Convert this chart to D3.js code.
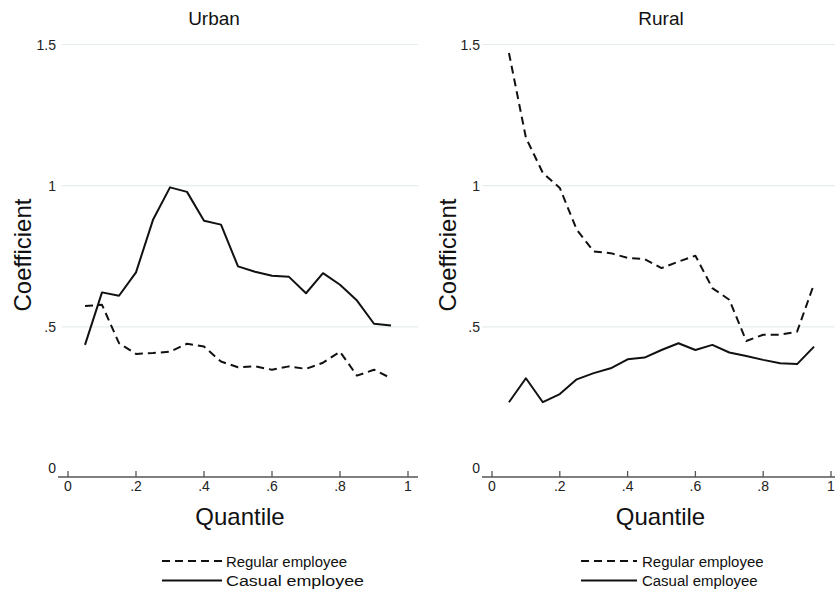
<!DOCTYPE html>
<html>
<head>
<meta charset="utf-8">
<script src="https://cdn.jsdelivr.net/npm/d3@7"></script>
<style>
  body { margin: 0; background: #fff; }
  svg { display: block; font-family: "Liberation Sans", Arial, sans-serif; }
</style>
</head>
<body>
<svg id="chart" width="835" height="591"></svg>
<script>
// quantiles shared by all series
const quantiles = [0.05, 0.10, 0.15, 0.20, 0.25, 0.30, 0.35, 0.40, 0.45, 0.50,
                   0.55, 0.60, 0.65, 0.70, 0.75, 0.80, 0.85, 0.90, 0.95];

const urbanRegular = [0.574, 0.578, 0.442, 0.404, 0.407, 0.412, 0.440, 0.430, 0.377, 0.357,
                      0.360, 0.348, 0.360, 0.351, 0.373, 0.412, 0.327, 0.348, 0.318];
const urbanCasual  = [0.436, 0.622, 0.610, 0.693, 0.879, 0.994, 0.978, 0.876, 0.862, 0.714,
                      0.695, 0.681, 0.677, 0.619, 0.690, 0.649, 0.593, 0.511, 0.505];
const ruralRegular = [1.470, 1.170, 1.045, 0.992, 0.844, 0.767, 0.761, 0.744, 0.740, 0.708,
                      0.731, 0.752, 0.637, 0.596, 0.450, 0.472, 0.472, 0.483, 0.652];
const ruralCasual  = [0.233, 0.318, 0.233, 0.262, 0.314, 0.336, 0.353, 0.385, 0.391, 0.418,
                      0.442, 0.418, 0.436, 0.409, 0.397, 0.383, 0.371, 0.368, 0.430];

const xTicks = [0, 0.2, 0.4, 0.6, 0.8, 1];
const yTicks = [0, 0.5, 1, 1.5];
const seriesNames = ["Regular employee", "Casual employee"];

// Stata style labels: ".5" rather than "0.5"
const fmt = d => String(d).replace(/^0\./, ".");

const svg = d3.select("#chart");

// panel layout
const panels = [
    { title: "Urban", titleX: 214, x0: 68, x1: 408, axisL: 58, axisR: 418, gridL: 62, labelX: 56, yTitleX: 31,
      data: [urbanRegular, urbanCasual],
      legend: { lineL: 162, lineR: 222, textX: 226, lens: [121, 138] } },
    { title: "Rural", titleX: 661, x0: 492, x1: 831, axisL: 482, axisR: 835, gridL: 482, labelX: 480, yTitleX: 456,
      data: [ruralRegular, ruralCasual],
      legend: { lineL: 581, lineR: 637, textX: 642, lens: [121.6, 115.6] } }
];

const y = d3.scaleLinear().domain([0, 1.5]).range([468, 44.5]);
const axisY = 477;
const dash = "8,5";

panels.forEach(p => {
    const x = d3.scaleLinear().domain([0, 1]).range([p.x0, p.x1]);
    const g = svg.append("g");

    // gridlines
    g.selectAll(".grid")
        .data(yTicks.filter(t => t > 0))
        .enter().append("line")
        .attr("x1", p.gridL).attr("x2", p.axisR)
        .attr("y1", d => y(d)).attr("y2", d => y(d))
        .attr("stroke", "#e6eded").attr("stroke-width", 1.2);

    // y labels
    g.selectAll(".ylab")
        .data(yTicks)
        .enter().append("text")
        .attr("x", p.labelX).attr("y", d => y(d))
        .attr("dy", "0.36em")
        .attr("text-anchor", "end")
        .style("font-size", "14px").attr("fill", "#222")
        .text(fmt);

    // x axis
    g.append("line")
        .attr("x1", p.axisL).attr("x2", p.axisR)
        .attr("y1", axisY).attr("y2", axisY)
        .attr("stroke", "#555").attr("stroke-width", 1.5);
    g.selectAll(".xtick")
        .data(xTicks)
        .enter().append("line")
        .attr("x1", d => x(d)).attr("x2", d => x(d))
        .attr("y1", axisY).attr("y2", axisY - 6)
        .attr("stroke", "#555").attr("stroke-width", 1.3);
    g.selectAll(".xlab")
        .data(xTicks)
        .enter().append("text")
        .attr("x", d => x(d)).attr("y", 491)
        .attr("text-anchor", "middle")
        .style("font-size", "14px").attr("fill", "#222")
        .text(fmt);

    // titles
    g.append("text")
        .attr("x", p.titleX).attr("y", 25)
        .attr("text-anchor", "middle")
        .style("font-size", "19px").attr("fill", "#111")
        .text(p.title);
    g.append("text")
        .attr("transform", `translate(${p.yTitleX},255) rotate(-90)`)
        .attr("text-anchor", "middle")
        .style("font-size", "24px").attr("fill", "#111")
        .text("Coefficient");
    g.append("text")
        .attr("x", (p.axisL + p.axisR) / 2 + 2).attr("y", 525)
        .attr("text-anchor", "middle")
        .style("font-size", "24px").attr("fill", "#111")
        .text("Quantile");

    // series lines
    const line = d3.line()
        .x((d, i) => x(quantiles[i]))
        .y(d => y(d));
    p.data.forEach((vals, k) => {
        g.append("path")
            .datum(vals)
            .attr("fill", "none")
            .attr("stroke", "#111")
            .attr("stroke-width", 2)
            .attr("stroke-linejoin", "round")
            .attr("stroke-dasharray", k === 0 ? dash : null)
            .attr("d", line);
    });

    // legend
    const lg = p.legend;
    seriesNames.forEach((name, k) => {
        const ly = 561 + k * 19.5;
        g.append("line")
            .attr("x1", lg.lineL).attr("x2", lg.lineR)
            .attr("y1", ly).attr("y2", ly)
            .attr("stroke", "#111").attr("stroke-width", 2)
            .attr("stroke-dasharray", k === 0 ? dash : null);
        g.append("text")
            .attr("x", lg.textX).attr("y", ly + 5.5)
            .attr("textLength", lg.lens[k])
            .attr("lengthAdjust", "spacingAndGlyphs")
            .style("font-size", "15.5px").attr("fill", "#111")
            .text(name);
    });
});
</script>
</body>
</html>
